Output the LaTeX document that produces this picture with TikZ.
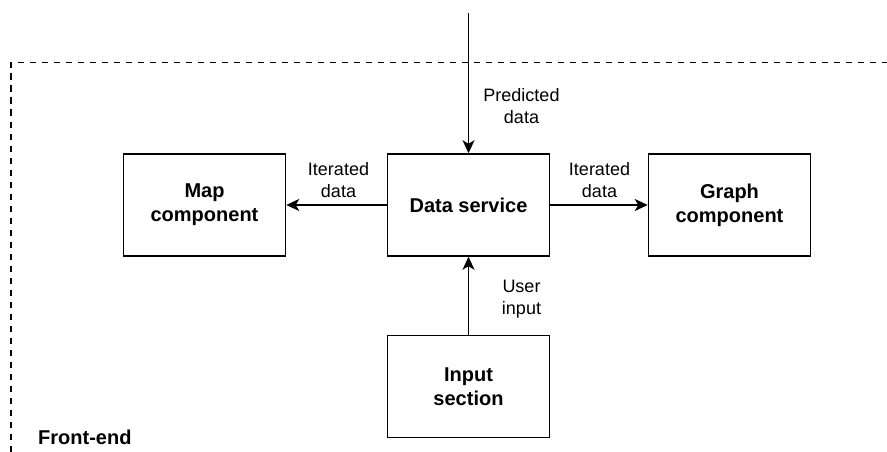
\documentclass[tikz,border=0pt]{standalone}
\usepackage{fontspec}
\setmainfont{Liberation Sans}
\usetikzlibrary{arrows.meta}
\begin{document}
\begin{tikzpicture}[x=1pt,y=-1pt,
  box/.style={draw=black, line width=1.5pt, minimum width=162pt, minimum height=102pt, align=center, inner sep=0pt, font=\bfseries\fontsize{20}{24}\selectfont},
  lbl/.style={align=center, inner sep=0pt, font=\fontsize{18}{22}\selectfont},
  conn/.style={line width=1.5pt, -{Stealth[length=13pt,width=12pt,inset=3.5pt]}},
  frame/.style={line width=1.6pt, dash pattern=on 6.5pt off 5.5pt}
]
\useasboundingbox (0,0) rectangle (887,452);
\draw[frame] (11,452) -- (11,62.5) -- (887,62.5);
\node[box] (map) at (204.5,205) {Map\\component};
\node[box] (ds) at (468.5,205) {Data service};
\node[box] (graph) at (729.5,205) {Graph\\component};
\node[box] (inp) at (468.5,386.5) {Input\\section};
\coordinate (top) at (468.5,13);
\draw[conn] (top) -- (ds.north);
\draw[conn] (ds.west) -- (map.east);
\draw[conn] (ds.east) -- (graph.west);
\draw[conn] (inp.north) -- (ds.south);
\node[lbl] (lp) at (521.5,106) {Predicted\\data};
\node[lbl] (li1) at (338.5,180) {Iterated\\data};
\node[lbl] (li2) at (599.5,180) {Iterated\\data};
\node[lbl] (lu) at (521.5,299) {User\\input};
\node[anchor=west, inner sep=0pt, font=\bfseries\fontsize{20}{24}\selectfont] (fe) at (38,437) {Front-end};
\end{tikzpicture}
\end{document}
